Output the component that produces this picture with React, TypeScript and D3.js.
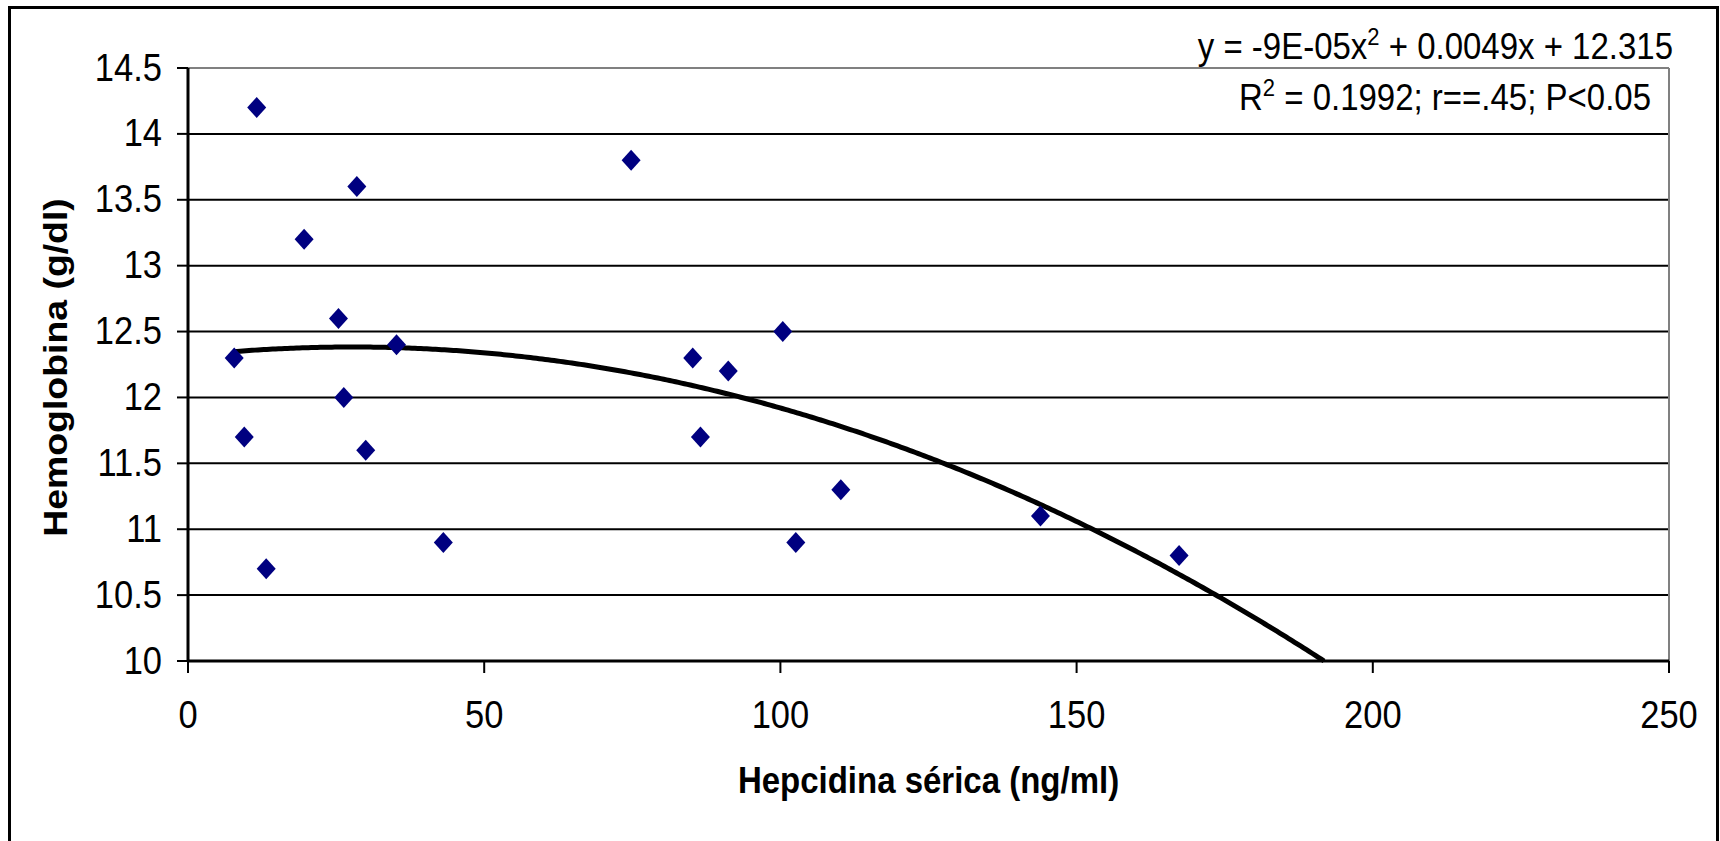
import React from "react";
import * as d3 from "d3";

// Data
const hepcidina = [7.8, 9.5, 11.6, 13.2, 19.6, 25.4, 26.3, 28.5, 30.0, 35.2, 43.1, 74.8, 85.2, 86.5, 91.2, 100.4, 102.6, 110.2, 143.9, 167.3];
const hemoglobina = [12.3, 11.7, 14.2, 10.7, 13.2, 12.6, 12.0, 13.6, 11.6, 12.4, 10.9, 13.8, 12.3, 11.7, 12.2, 12.5, 10.9, 11.3, 11.1, 10.8];

const xTicks = [0, 50, 100, 150, 200, 250];
const yTicks = [10, 10.5, 11, 11.5, 12, 12.5, 13, 13.5, 14, 14.5];
const yTickLabels = ["10", "10.5", "11", "11.5", "12", "12.5", "13", "13.5", "14", "14.5"];

// Polynomial trendline (as drawn)
const trendA = -8.85e-5;
const trendB = 0.0049;
const trendC = 12.315;

const xTitle = "Hepcidina sérica (ng/ml)";
const yTitle = "Hemoglobina (g/dl)";
const eqPart1 = "y = -9E-05x";
const eqPart2 = " + 0.0049x + 12.315";
const r2Part1 = "R";
const r2Part2 = " = 0.1992; r==.45; P<0.05";

const FONT = "'Liberation Sans', Arial, Helvetica, sans-serif";
const SY = 1.1;

export default function App() {
  const W = 1720;
  const H = 841;
  const x = d3.scaleLinear().domain([0, 250]).range([188, 1669]);
  const y = d3.scaleLinear().domain([10, 14.5]).range([661, 68]);

  const xStart = d3.min(hepcidina) as number;
  const xEnd = (-trendB - Math.sqrt(trendB * trendB - 4 * trendA * (trendC - 10))) / (2 * trendA);
  const xs = d3.range(xStart, xEnd, 0.5).concat([xEnd]);
  const trendPath = d3
    .line<number>()
    .x((d) => x(d))
    .y((d) => y(trendA * d * d + trendB * d + trendC))(xs) as string;

  const diamond = (cx: number, cy: number) => {
    const hw = 9.5, hh = 10.5;
    return `M${cx},${cy - hh}L${cx + hw},${cy}L${cx},${cy + hh}L${cx - hw},${cy}Z`;
  };

  const plotLeft = x(0), plotRight = x(250), plotTop = y(14.5), plotBottom = y(10);

  return (
    <svg
      width={W}
      height={H}
      style={{ position: "absolute", left: 0, top: 0, display: "block", background: "#fff" }}
      fontFamily={FONT}
    >
      <rect x={0} y={0} width={W} height={H} fill="#fff" />
      {/* outer chart border */}
      <rect x={9.5} y={7.5} width={1708} height={900} fill="none" stroke="#000" strokeWidth={3} />

      {/* gridlines */}
      {yTicks.filter((t) => t !== 10 && t !== 14.5).map((t) => (
        <line key={"g" + t} x1={plotLeft} x2={plotRight} y1={y(t)} y2={y(t)} stroke="#000" strokeWidth={2} />
      ))}
      {/* plot area top & right border */}
      <line x1={plotLeft} x2={plotRight} y1={plotTop} y2={plotTop} stroke="#808080" strokeWidth={2} />
      <line x1={plotRight} x2={plotRight} y1={plotTop} y2={plotBottom} stroke="#808080" strokeWidth={2} />

      {/* axes */}
      <line x1={plotLeft} x2={plotRight} y1={plotBottom} y2={plotBottom} stroke="#000" strokeWidth={3} />
      <line x1={plotLeft} x2={plotLeft} y1={plotTop} y2={plotBottom} stroke="#000" strokeWidth={3} />
      {yTicks.map((t) => (
        <line key={"yt" + t} x1={plotLeft - 11} x2={plotLeft} y1={y(t)} y2={y(t)} stroke="#000" strokeWidth={2} />
      ))}
      {xTicks.map((t) => (
        <line key={"xt" + t} x1={x(t)} x2={x(t)} y1={plotBottom} y2={plotBottom + 12} stroke="#000" strokeWidth={2} />
      ))}

      {/* tick labels */}
      {yTicks.map((t, i) => (
        <g key={"yl" + t} transform={`translate(${plotLeft - 26},${y(t) + 12.5}) scale(1,${SY})`}>
          <text textAnchor="end" fontSize={34.5} fill="#000">{yTickLabels[i]}</text>
        </g>
      ))}
      {xTicks.map((t) => (
        <g key={"xl" + t} transform={`translate(${x(t)},${728}) scale(1,${SY})`}>
          <text textAnchor="middle" fontSize={34.5} fill="#000">{String(t)}</text>
        </g>
      ))}

      {/* axis titles */}
      <g transform={`translate(${(plotLeft + plotRight) / 2},${793}) scale(1,${SY})`}>
        <text textAnchor="middle" fontSize={33} fontWeight="bold" fill="#000">{xTitle}</text>
      </g>
      <g transform={`translate(${67},${(plotTop + plotBottom) / 2 + 3}) scale(1,${SY}) rotate(-90)`}>
        <text textAnchor="middle" fontSize={34} fontWeight="bold" fill="#000">{yTitle}</text>
      </g>

      {/* trendline */}
      <path d={trendPath} fill="none" stroke="#000" strokeWidth={5} strokeLinejoin="round" />

      {/* data points */}
      {hepcidina.map((hx, i) => (
        <path key={"p" + i} d={diamond(x(hx), y(hemoglobina[i]))} fill="#000080" />
      ))}

      {/* equation */}
      <g transform={`translate(${1673},${59}) scale(1,${SY})`}>
        <text textAnchor="end" fontSize={33} fill="#000">
          {eqPart1}
          <tspan fontSize={22} dy={-13}>2</tspan>
          <tspan dy={13}>{eqPart2}</tspan>
        </text>
      </g>
      <g transform={`translate(${1651},${110}) scale(1,${SY})`}>
        <text textAnchor="end" fontSize={33} fill="#000">
          {r2Part1}
          <tspan fontSize={22} dy={-13}>2</tspan>
          <tspan dy={13}>{r2Part2}</tspan>
        </text>
      </g>
    </svg>
  );
}
